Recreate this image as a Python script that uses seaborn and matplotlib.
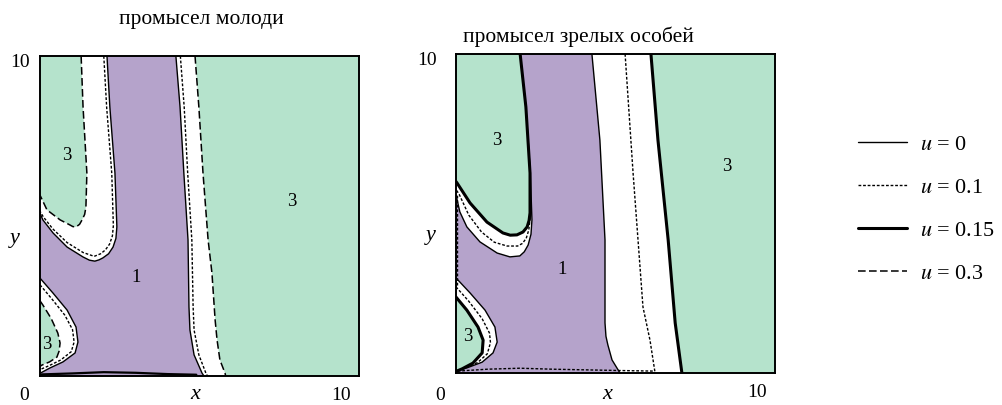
import numpy as np
import matplotlib.pyplot as plt
import seaborn as sns

sns.set_style("white")
plt.rcParams['font.family'] = ['Liberation Serif', 'DejaVu Serif']
plt.rcParams['mathtext.fontset'] = 'stix'
plt.rcParams['text.color'] = 'black'

GREEN = '#b5e3cc'
PURPLE = '#b5a3cb'

titles = ['промысел молоди', 'промысел зрелых особей']
legend_labels = [r'$u$ = 0', r'$u$ = 0.1', r'$u$ = 0.15', r'$u$ = 0.3']

# ---------- левая панель (промысел молоди) ----------
# верхняя "U"-область: граница зелёной зоны (u=0.3) и фиолетовой (u=0)
L_u_green_x = [1.29, 1.35, 1.47, 1.44, 1.40, 1.32, 1.24, 1.13, 1.03, 0.94, 0.63, 0.22, 0.03, 0.0]
L_u_green_y = [10.0, 8.41, 6.34, 5.28, 5.05, 4.88, 4.74, 4.66, 4.67, 4.72, 4.88, 5.19, 5.59, 5.65]
L_u_purple_x = [2.10, 2.19, 2.35, 2.41, 2.38, 2.29, 2.15, 1.97, 1.85, 1.72, 1.55, 1.35, 0.85, 0.41, 0.09, 0.0]
L_u_purple_y = [10.0, 8.41, 6.34, 4.66, 4.30, 4.03, 3.82, 3.69, 3.63, 3.59, 3.62, 3.72, 4.03, 4.47, 4.88, 5.09]
L_u_dot_x = [2.00, 2.09, 2.25, 2.30, 2.27, 2.18, 2.05, 1.90, 1.70, 1.35, 0.85, 0.40, 0.10, 0.0]
L_u_dot_y = [10.0, 8.40, 6.34, 4.70, 4.38, 4.12, 3.94, 3.82, 3.74, 3.86, 4.17, 4.60, 4.98, 5.15]
# нижняя левая область
L_lo_green_x = [0.0, 0.09, 0.35, 0.56, 0.63, 0.60, 0.53, 0.30, 0.06, 0.0]
L_lo_green_y = [2.35, 2.22, 1.80, 1.34, 1.03, 0.78, 0.59, 0.44, 0.34, 0.30]
L_lo_purple_x = [0.0, 0.41, 0.85, 1.13, 1.19, 1.10, 0.72, 0.31, 0.03]
L_lo_purple_y = [3.06, 2.59, 2.06, 1.53, 1.06, 0.72, 0.44, 0.25, 0.10]
L_lo_dot_x = [0.0, 0.38, 0.78, 1.02, 1.07, 0.98, 0.65, 0.28, 0.0]
L_lo_dot_y = [2.85, 2.40, 1.90, 1.45, 1.06, 0.76, 0.50, 0.32, 0.20]
# вертикальная полоса
L_v_purple_x = [4.26, 4.39, 4.51, 4.64, 4.67, 4.70, 4.83, 5.08, 5.14]
L_v_purple_y = [10.0, 8.41, 6.34, 4.25, 2.16, 1.44, 0.66, 0.09, 0.0]
L_v_dot_x = [4.40, 4.52, 4.63, 4.76, 4.80, 4.83, 4.98, 5.20, 5.25]
L_v_dot_y = [10.0, 8.41, 6.34, 4.25, 2.16, 1.44, 0.66, 0.09, 0.0]
L_v_green_x = [4.86, 4.98, 5.11, 5.27, 5.39, 5.49, 5.55, 5.64, 5.80, 5.82]
L_v_green_y = [10.0, 8.41, 6.34, 4.25, 3.22, 1.75, 1.13, 0.50, 0.09, 0.0]
L_bottom_x = [0.05, 1.0, 2.0, 3.0, 4.0, 4.9]
L_bottom_y = [0.05, 0.08, 0.12, 0.10, 0.06, 0.04]

# ---------- правая панель (промысел зрелых особей) ----------
R_u_green_x = [2.01, 2.19, 2.32, 2.32, 2.29, 2.23, 2.10, 1.91, 1.70, 1.47, 0.97, 0.44, 0.03, 0.0]
R_u_green_y = [10.0, 8.34, 6.27, 5.02, 4.78, 4.58, 4.42, 4.33, 4.32, 4.39, 4.73, 5.33, 5.96, 6.00]
R_u_purple_x = [2.01, 2.19, 2.33, 2.38, 2.35, 2.26, 2.14, 2.00, 1.69, 1.29, 0.75, 0.34, 0.12, 0.03, 0.0]
R_u_purple_y = [10.0, 8.34, 6.27, 4.80, 4.35, 4.01, 3.80, 3.67, 3.64, 3.76, 4.11, 4.58, 5.05, 5.45, 5.55]
R_u_dot_x = [2.34, 2.32, 2.28, 2.20, 2.08, 1.93, 1.60, 1.20, 0.80, 0.40, 0.10, 0.0]
R_u_dot_y = [5.30, 4.80, 4.48, 4.22, 4.06, 3.98, 3.98, 4.10, 4.42, 4.95, 5.60, 5.75]
R_lo_green_x = [0.0, 0.34, 0.69, 0.85, 0.82, 0.53, 0.19, 0.0]
R_lo_green_y = [2.38, 1.97, 1.44, 1.03, 0.63, 0.31, 0.13, 0.05]
R_lo_purple_x = [0.0, 0.44, 0.91, 1.22, 1.29, 1.16, 0.82, 0.34, 0.0]
R_lo_purple_y = [2.98, 2.51, 1.97, 1.44, 0.97, 0.63, 0.34, 0.16, 0.06]
R_lo_dot_x = [0.0, 0.40, 0.82, 1.05, 1.08, 0.98, 0.68, 0.28, 0.0]
R_lo_dot_y = [2.70, 2.25, 1.70, 1.25, 0.95, 0.60, 0.33, 0.15, 0.06]
R_v_purple_x = [4.26, 4.51, 4.67, 4.67, 4.70, 4.76, 4.89, 5.14]
R_v_purple_y = [10.0, 7.30, 4.17, 1.57, 1.15, 0.88, 0.41, 0.0]
R_v_dot_x = [5.30, 5.55, 5.86, 6.08, 6.24]
R_v_dot_y = [10.0, 6.27, 2.07, 1.03, 0.0]
R_v_green_x = [6.11, 6.33, 6.65, 6.87, 7.08]
R_v_green_y = [10.0, 7.30, 4.17, 1.57, 0.0]
R_bottom_x = [0.05, 1.0, 2.0, 3.0, 4.0, 5.0, 6.2]
R_bottom_y = [0.06, 0.12, 0.15, 0.12, 0.10, 0.08, 0.06]
R_edge_x = [0.03, 0.03]
R_edge_y = [2.75, 5.60]

# подписи областей
L_region_x = [0.85, 3.01, 0.22, 7.90]
L_region_y = [6.90, 3.09, 0.97, 5.44]
L_region_txt = ['3', '1', '3', '3']
R_region_x = [1.29, 3.32, 0.38, 8.50]
R_region_y = [7.30, 3.23, 1.13, 6.46]
R_region_txt = ['3', '1', '3', '3']

STY = {
    'u0':   dict(color='black', linewidth=1.0, linestyle='-'),
    'u01':  dict(color='black', linewidth=1.0, linestyle=(0, (2, 1.3))),
    'u015': dict(color='black', linewidth=2.2, linestyle='-'),
    'u03':  dict(color='black', linewidth=1.1, linestyle=(0, (5, 2.2))),
}


def line(ax, x, y, key):
    sns.lineplot(x=x, y=y, sort=False, estimator=None, ax=ax, **STY[key])


def draw_panel(ax, u_green, u_purple, lo_green, lo_purple, v_purple, v_green):
    ax.fill([0, 0, 10, 10], [0, 10, 10, 0], color=GREEN, lw=0)
    # белая полоса слева от зелёной границы
    wx = [0] + list(v_green[0]) + [0]
    wy = [10] + list(v_green[1]) + [0]
    ax.fill(wx, wy, color='white', lw=0)
    # зелёные области слева
    ax.fill(list(u_green[0]) + [0], list(u_green[1]) + [10], color=GREEN, lw=0)
    ax.fill(list(lo_green[0]), list(lo_green[1]), color=GREEN, lw=0)
    # фиолетовая область 1
    px = list(u_purple[0]) + list(lo_purple[0]) + [0, v_purple[0][-1]] + list(v_purple[0][::-1])
    py = list(u_purple[1]) + list(lo_purple[1]) + [0, 0] + list(v_purple[1][::-1])
    ax.fill(px, py, color=PURPLE, lw=0)


fig = plt.figure(figsize=(10.02, 4.05), dpi=100)
axL = fig.add_axes([0.0399, 0.0716, 0.3184, 0.790])
axR = fig.add_axes([0.4551, 0.0790, 0.3184, 0.7877])

draw_panel(axL, (L_u_green_x, L_u_green_y), (L_u_purple_x, L_u_purple_y),
           (L_lo_green_x, L_lo_green_y), (L_lo_purple_x, L_lo_purple_y),
           (L_v_purple_x, L_v_purple_y), (L_v_green_x, L_v_green_y))
line(axL, L_u_green_x, L_u_green_y, 'u03')
line(axL, L_u_purple_x, L_u_purple_y, 'u0')
line(axL, L_u_dot_x, L_u_dot_y, 'u01')
line(axL, L_lo_green_x, L_lo_green_y, 'u03')
line(axL, L_lo_purple_x, L_lo_purple_y, 'u0')
line(axL, L_lo_dot_x, L_lo_dot_y, 'u01')
line(axL, L_v_purple_x, L_v_purple_y, 'u0')
line(axL, L_v_dot_x, L_v_dot_y, 'u01')
line(axL, L_v_green_x, L_v_green_y, 'u03')
sns.lineplot(x=L_bottom_x, y=L_bottom_y, sort=False, estimator=None, ax=axL,
             color='black', linewidth=1.6)

draw_panel(axR, (R_u_green_x, R_u_green_y), (R_u_purple_x, R_u_purple_y),
           (R_lo_green_x, R_lo_green_y), (R_lo_purple_x, R_lo_purple_y),
           (R_v_purple_x, R_v_purple_y), (R_v_green_x, R_v_green_y))
line(axR, R_u_purple_x, R_u_purple_y, 'u0')
line(axR, R_u_dot_x, R_u_dot_y, 'u01')
line(axR, R_u_green_x, R_u_green_y, 'u015')
line(axR, R_lo_purple_x, R_lo_purple_y, 'u0')
line(axR, R_lo_dot_x, R_lo_dot_y, 'u01')
line(axR, R_lo_green_x, R_lo_green_y, 'u015')
line(axR, R_v_purple_x, R_v_purple_y, 'u0')
line(axR, R_v_dot_x, R_v_dot_y, 'u01')
line(axR, R_v_green_x, R_v_green_y, 'u015')
line(axR, R_bottom_x, R_bottom_y, 'u01')
line(axR, R_edge_x, R_edge_y, 'u01')

panels = [
    (axL, L_region_x, L_region_y, L_region_txt, titles[0], (5.05, 11.15), 4.86, -0.62, -0.62),
    (axR, R_region_x, R_region_y, R_region_txt, titles[1], (3.85, 10.55), 4.73, -0.91, -0.72),
]
for ax, rx, ry, rt, title, tpos, xlab_x, ten_x, low_y in panels:
    ax.set_xlim(0, 10)
    ax.set_ylim(0, 10)
    ax.set_xticks([])
    ax.set_yticks([])
    ax.set(xlabel='', ylabel='')
    for s in ax.spines.values():
        s.set_visible(True)
        s.set_color('black')
        s.set_linewidth(1.4)
    for x, y, t in zip(rx, ry, rt):
        ax.text(x, y, t, fontsize=13.5, ha='center', va='center')
    ax.text(tpos[0], tpos[1], title, fontsize=15.5, ha='center', va='center', clip_on=False)
    ax.text(-0.5, low_y, '0', fontsize=14, ha='center', va='center', clip_on=False)
    ax.text(9.45, -0.6, '10', fontsize=14, ha='center', va='center', clip_on=False)
    ax.text(ten_x, 9.8, '10', fontsize=14, ha='center', va='center', clip_on=False)
    ax.text(xlab_x, low_y + 0.05, 'x', fontsize=16, style='italic', ha='center', va='center', clip_on=False)
    ax.text(-0.8, 4.3, 'y', fontsize=16, style='italic', ha='center', va='center', clip_on=False)

handles = [plt.Line2D([], [], **STY[k]) for k in ['u0', 'u01', 'u015', 'u03']]
fig.legend(handles, legend_labels, loc='upper left', bbox_to_anchor=(0.836, 0.717),
           frameon=False, fontsize=16, handlelength=2.2, handletextpad=0.6,
           labelspacing=1.0)

fig.savefig('out.png', dpi=100)
